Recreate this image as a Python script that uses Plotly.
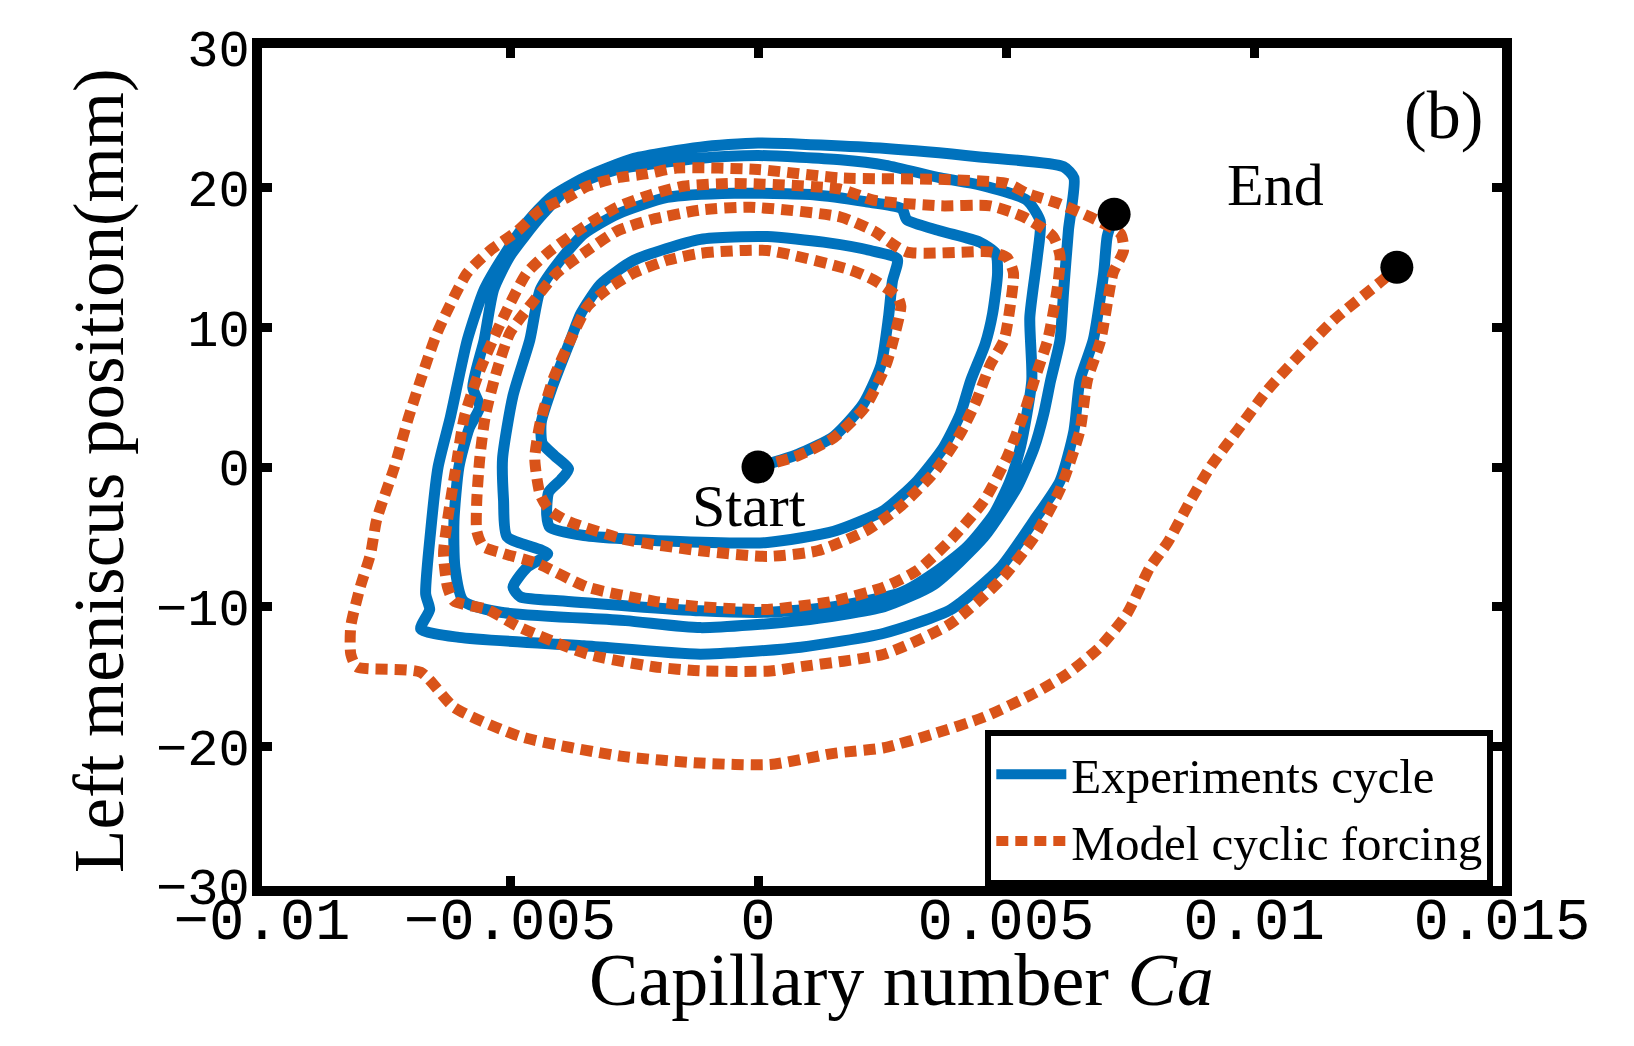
import plotly.graph_objects as go

# ---------------- data ----------------
exp_ca = [0, 0.00080, 0.00153, 0.00212, 0.00248, 0.00263, 0.00271, 0.00281, 0.00227, 0.00132,
          0.00019, -0.00116, -0.00250, -0.00317, -0.00357, -0.00378, -0.00414, -0.00437, -0.00435, -0.00410,
          -0.00382, -0.00397, -0.00422, -0.00426, -0.00420, -0.00351, -0.00183, 0.00019, 0.00153, 0.00254,
          0.00321, 0.00374, 0.00408, 0.00429, 0.00458, 0.00473, 0.00483, 0.00479, 0.00447, 0.00368,
          0.00300, 0.00290, 0.00216, 0.00111, -0.00048, -0.00183, -0.00284, -0.00351, -0.00399, -0.00439,
          -0.00460, -0.00494, -0.00515, -0.00513, -0.00506, -0.00424, -0.00466, -0.00494, -0.00479, -0.00393,
          -0.00116, 0.00019, 0.00153, 0.00288, 0.00355, 0.00422, 0.00475, 0.00508, 0.00529, 0.00552,
          0.00548, 0.00563, 0.00569, 0.00542, 0.00447, 0.00368, 0.00258, 0.00166, 0, -0.00116,
          -0.00284, -0.00384, -0.00439, -0.00500, -0.00533, -0.00552, -0.00575, -0.00561, -0.00582, -0.00603,
          -0.00613, -0.00611, -0.00594, -0.00519, -0.00267, -0.00116, 0.00086, 0.00254, 0.00355, 0.00456,
          0.00523, 0.00557, 0.00576, 0.00590, 0.00609, 0.00616, 0.00626, 0.00637, 0.00616, 0.00447,
          0.00258, 0, -0.00116, -0.00250, -0.00351, -0.00418, -0.00466, -0.00513, -0.00552, -0.00586,
          -0.00620, -0.00645, -0.00660, -0.00670, -0.00662, -0.00680, -0.00603, -0.00351, -0.00116, 0.00086,
          0.00254, 0.00389, 0.00489, 0.00557, 0.00609, 0.00637, 0.00649, 0.00676, 0.00697, 0.00704,
          0.00718]
exp_pos = [0, 0.9, 2.2, 4.5, 7.3, 10.7, 13.3, 14.9, 15.5, 16.1,
           16.5, 16.3, 14.8, 13.1, 11.0, 9.1, 5.8, 3.2, 1.7, 0.8,
           -0.15, -0.9, -1.8, -3.4, -4.3, -4.9, -5.3, -5.4, -4.6, -3.1,
           -1.0, 1.4, 3.8, 6.2, 8.8, 11.0, 13.9, 15.3, 16.1, 16.9,
           17.7, 18.5, 19.0, 19.5, 19.6, 19.3, 18.1, 16.7, 14.8, 12.7,
           9.1, 5.1, 0.6, -2.4, -5.0, -6.2, -7.2, -8.6, -9.3, -9.6,
           -10.3, -10.4, -10.0, -9.0, -7.6, -5.7, -3.4, -1.0, 1.4, 6.2,
           10.7, 15.0, 17.6, 19.1, 20.2, 20.7, 21.6, 22.0, 22.3, 22.1,
           21.3, 19.9, 17.9, 15.1, 12.7, 9.1, 5.7, 4.3, 2.8, 0,
           -3.9, -7.2, -9.6, -10.4, -11.0, -11.5, -11.0, -10.0, -8.4, -5.0,
           -1.4, 1.4, 3.8, 6.2, 9.1, 12.5, 17.0, 20.7, 21.5, 22.2,
           22.8, 23.2, 22.9, 22.1, 20.7, 19.3, 17.5, 15.1, 12.7, 9.1,
           3.6, 0, -4.6, -9.1, -10.2, -11.6, -12.2, -12.8, -13.4, -12.9,
           -11.9, -10.2, -7.2, -3.8, -1.0, 2.6, 6.2, 9.1, 13.9, 16.5,
           18.1]

model_ca = [0, 0.00080, 0.00153, 0.00216, 0.00258, 0.00273, 0.00288, 0.00281, 0.00233, 0.00187,
            0.00019, -0.00116, -0.00183, -0.00250, -0.00305, -0.00344, -0.00378, -0.00414, -0.00439, -0.00450,
            -0.00439, -0.00420, -0.00382, -0.00267, -0.00116, 0.00019, 0.00120, 0.00221, 0.00288, 0.00355,
            0.00408, 0.00441, 0.00468, 0.00496, 0.00508, 0.00515, 0.00502, 0.00468, 0.00300, 0.00233,
            0.00166, -0.00015, -0.00116, -0.00216, -0.00284, -0.00344, -0.00405, -0.00452, -0.00500, -0.00529,
            -0.00550, -0.00561, -0.00567, -0.00567, -0.00554, -0.00513, -0.00445, -0.00344, -0.00210, -0.00116,
            0.00019, 0.00153, 0.00254, 0.00321, 0.00389, 0.00456, 0.00502, 0.00536, 0.00557, 0.00584,
            0.00603, 0.00609, 0.00595, 0.00536, 0.00468, 0.00368, 0.00233, 0.00166, -0.00048, -0.00151,
            -0.00216, -0.00284, -0.00351, -0.00418, -0.00466, -0.00519, -0.00561, -0.00592, -0.00609, -0.00626,
            -0.00634, -0.00626, -0.00613, -0.00546, -0.00479, -0.00344, -0.00210, -0.00116, 0.00025, 0.00086,
            0.00254, 0.00389, 0.00489, 0.00557, 0.00609, 0.00649, 0.00664, 0.00691, 0.00716, 0.00737,
            0.00731, 0.00670, 0.00603, 0.00542, 0.00502, 0.00363, 0.00166, 0, -0.00164, -0.00223,
            -0.00284, -0.00344, -0.00384, -0.00439, -0.00485, -0.00540, -0.00586, -0.00647, -0.00704, -0.00733,
            -0.00769, -0.00781, -0.00802, -0.00821, -0.00821, -0.00809, -0.00680, -0.00613, -0.00479, -0.00277,
            -0.00116, 0.00025, 0.00153, 0.00254, 0.00355, 0.00456, 0.00557, 0.00624, 0.00689, 0.00744,
            0.00790, 0.00826, 0.00872, 0.00912, 0.00966, 0.01027, 0.01094, 0.01160, 0.01260, 0.01288]
model_pos = [0, 0.8, 2.1, 4.3, 7.3, 9.1, 11.5, 12.2, 13.4, 14.1,
             15.5, 15.3, 14.8, 13.9, 12.7, 11.5, 9.1, 6.2, 3.2, 0.6,
             -2.0, -3.1, -3.9, -5.2, -6.0, -6.4, -6.0, -4.5, -2.8, -0.4,
             2.4, 4.8, 7.3, 9.1, 11.4, 13.9, 15.0, 15.4, 15.4, 16.9,
             17.9, 18.6, 18.4, 17.7, 16.9, 15.5, 13.9, 11.9, 9.6, 6.6,
             3.6, 0.6, -2.4, -4.6, -5.7, -6.2, -6.9, -8.6, -9.6, -10.0,
             -10.2, -9.6, -8.6, -7.4, -5.2, -2.4, 0.7, 3.8, 6.2, 9.1,
             12.7, 15.1, 16.5, 17.9, 18.7, 18.7, 19.1, 19.9, 20.3, 20.1,
             19.5, 18.6, 17.2, 15.5, 13.9, 10.3, 6.9, 3.6, 0, -3.8,
             -6.2, -8.6, -9.6, -10.2, -11.5, -13.4, -14.3, -14.6, -14.6, -14.3,
             -13.4, -11.2, -8.1, -5.0, -1.6, 2.6, 6.2, 9.1, 13.9, 15.5,
             16.7, 17.9, 18.9, 19.6, 20.3, 20.6, 20.7, 21.3, 21.4, 21.0,
             20.7, 20.1, 19.3, 18.4, 16.9, 15.5, 13.9, 9.6, 3.6, 0,
             -3.8, -6.2, -8.6, -11.4, -13.4, -14.3, -14.7, -17.2, -19.3, -20.7,
             -21.2, -21.3, -20.5, -20.1, -19.1, -17.9, -16.2, -14.8, -12.9, -10.5,
             -7.2, -5.4, -2.4, 0, 2.6, 5.5, 8.1, 10.5, 13.4, 14.3]

point_ca = [0, 0.00718, 0.01288]
point_pos = [0, 18.1, 14.3]

x_tickvals = [-0.01, -0.005, 0, 0.005, 0.01, 0.015]
x_ticktext = ["\u22120.01", "\u22120.005", "0", "0.005", "0.01", "0.015"]
y_tickvals = [-30, -20, -10, 0, 10, 20, 30]
y_ticktext = ["\u221230", "\u221220", "\u221210", "0", "10", "20", "30"]

x_title = "Capillary number <i>Ca</i>"
y_title = "Left meniscus position(mm)"

BLUE = "#0072BD"
ORANGE = "#D95319"
SERIF = "Liberation Serif"
MONO = "Liberation Mono"

fig = go.Figure()
fig.add_trace(go.Scatter(x=exp_ca, y=exp_pos, mode="lines", name="Experiments cycle",
                         line=dict(color=BLUE, width=11, shape="spline", smoothing=0.6)))
fig.add_trace(go.Scatter(x=model_ca, y=model_pos, mode="lines", name="Model cyclic forcing",
                         line=dict(color=ORANGE, width=11, dash="12px,7px",
                                   shape="spline", smoothing=0.6)))
fig.add_trace(go.Scatter(x=point_ca, y=point_pos, mode="markers", showlegend=False,
                         marker=dict(color="black", size=33)))

fig.add_annotation(x=-0.00019, y=-2.8, text="Start", showarrow=False,
                   font=dict(family=SERIF, size=60, color="black"))
fig.add_annotation(x=0.01044, y=20.2, text="End", showarrow=False,
                   font=dict(family=SERIF, size=60, color="black"))
fig.add_annotation(x=0.01382, y=25.2, text="(b)", showarrow=False,
                   font=dict(family=SERIF, size=68, color="black"))

# axis titles placed as paper-referenced annotations
fig.add_annotation(xref="paper", yref="paper", x=0.516, y=-0.112, text=x_title,
                   showarrow=False, xanchor="center", yanchor="middle",
                   font=dict(family=SERIF, size=74, color="black"))
fig.add_annotation(xref="paper", yref="paper", x=-0.131, y=0.496, text=y_title,
                   showarrow=False, xanchor="center", yanchor="middle", textangle=-90,
                   font=dict(family=SERIF, size=71, color="black"))

axis_common = dict(showline=True, linewidth=10, linecolor="black", mirror="ticks",
                   ticks="inside", ticklen=10, tickwidth=9, tickcolor="black",
                   showgrid=False, zeroline=False)

fig.update_xaxes(range=[-0.01, 0.015], tickvals=x_tickvals, ticktext=x_ticktext,
                 tickfont=dict(family=MONO, size=59, color="black"),
                 ticklabelstandoff=-28, **axis_common)
fig.update_yaxes(range=[-30, 30], tickvals=y_tickvals, ticktext=y_ticktext,
                 tickfont=dict(family=MONO, size=52, color="black"),
                 ticklabelstandoff=-8, **axis_common)

fig.update_layout(
    width=1634, height=1046,
    margin=dict(l=262, r=132, t=48, b=160, autoexpand=False),
    paper_bgcolor="white", plot_bgcolor="white",
    legend=dict(x=0.993, xanchor="right", y=0.0, yanchor="bottom",
                bgcolor="white", bordercolor="black", borderwidth=6,
                font=dict(family=SERIF, size=49, color="black"),
                itemwidth=70, tracegroupgap=0),
    showlegend=True,
)

fig.write_html("out.html")
